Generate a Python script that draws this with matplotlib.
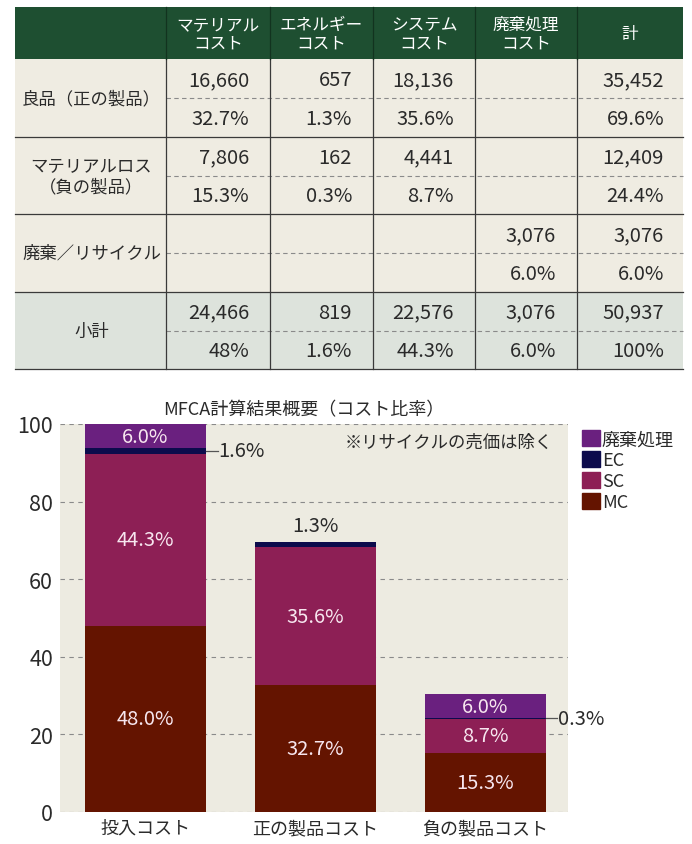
import matplotlib
matplotlib.use("Agg")
import matplotlib.pyplot as plt
from matplotlib.patches import Rectangle, Patch
import numpy as np

plt.rcParams['font.family'] = ['Noto Sans CJK JP', 'DejaVu Sans']

# ---- table data ----
header = ['マテリアル\nコスト', 'エネルギー\nコスト', 'システム\nコスト', '廃棄処理\nコスト', '計']
row_labels = ['良品（正の製品）', 'マテリアルロス\n（負の製品）', '廃棄／リサイクル', '小計']
amounts = [
    ['16,660', '657', '18,136', '', '35,452'],
    ['7,806', '162', '4,441', '', '12,409'],
    ['', '', '', '3,076', '3,076'],
    ['24,466', '819', '22,576', '3,076', '50,937'],
]
shares = [
    ['32.7%', '1.3%', '35.6%', '', '69.6%'],
    ['15.3%', '0.3%', '8.7%', '', '24.4%'],
    ['', '', '', '6.0%', '6.0%'],
    ['48%', '1.6%', '44.3%', '6.0%', '100%'],
]

# ---- chart data ----
bar_labels = ['投入コスト', '正の製品コスト', '負の製品コスト']
mc = [48.0, 32.7, 15.3]
sc = [44.3, 35.6, 8.7]
ec = [1.6, 1.3, 0.3]
waste = [6.0, 0.0, 6.0]
series_names = ['廃棄処理', 'EC', 'SC', 'MC']

c_mc = '#641400'
c_sc = '#8d1f55'
c_ec = '#0c0b4c'
c_waste = '#6a207f'
c_green = '#1e4f31'
c_beige = '#efece2'
c_total = '#dde3dc'
c_text = '#2a2a2a'
c_inner = '#f7e6ef'

W, H = 692, 845
fig = plt.figure(figsize=(W / 100, H / 100), dpi=100)

# table drawn in pixel coordinates
tax = fig.add_axes([0, 0, 1, 1])
tax.set_xlim(0, W)
tax.set_ylim(H, 0)
tax.axis('off')

col_edges = [15, 166, 270, 373, 475, 577, 683]
row_edges = [8, 60, 138, 215, 293, 370]

tax.add_patch(Rectangle((col_edges[0], row_edges[0]), col_edges[-1] - col_edges[0],
                        row_edges[1] - row_edges[0], color=c_green, lw=0))
for i in range(4):
    bg = c_total if i == 3 else c_beige
    tax.add_patch(Rectangle((col_edges[0], row_edges[i + 1]), col_edges[-1] - col_edges[0],
                            row_edges[i + 2] - row_edges[i + 1], color=bg, lw=0))

for j, h in enumerate(header):
    xc = (col_edges[j + 1] + col_edges[j + 2]) / 2
    tax.text(xc, (row_edges[0] + row_edges[1]) / 2 + 1, h, ha='center', va='center',
             color='white', fontsize=12, linespacing=1.15)

for i in range(4):
    top, bot = row_edges[i + 1], row_edges[i + 2]
    mid = (top + bot) / 2
    tax.text((col_edges[0] + col_edges[1]) / 2 + 1, mid, row_labels[i], ha='center', va='center',
             color=c_text, fontsize=12.5, linespacing=1.25)
    tax.plot([col_edges[1], col_edges[-1]], [mid, mid], color='#8a8a8a', lw=0.8,
             dashes=(4, 3))
    for j in range(5):
        xr = col_edges[j + 2] - 21 if j < 4 else col_edges[j + 2] - 19
        tax.text(xr, (top + mid) / 2 + 1, amounts[i][j], ha='right', va='center',
                 color=c_text, fontsize=14.5)
        tax.text(xr, (mid + bot) / 2 + 1, shares[i][j], ha='right', va='center',
                 color=c_text, fontsize=14.5)
    tax.plot([col_edges[0], col_edges[-1]], [bot, bot], color='#3a3a3a', lw=0.9)

for x in col_edges[1:-1]:
    tax.plot([x, x], [row_edges[1], row_edges[-1]], color='#3a3a3a', lw=0.9)
    tax.plot([x, x], [row_edges[0], row_edges[1]], color='#12331f', lw=0.9)

# ---- stacked bar chart ----
ax = fig.add_axes([60 / W, 32 / H, 508 / W, 388 / H])
ax.set_facecolor('#edebe1')
x = np.arange(len(bar_labels))
width = 0.712

mc_a, sc_a, ec_a, w_a = map(np.array, (mc, sc, ec, waste))
ax.bar(x, mc_a, width, color=c_mc, zorder=3)
ax.bar(x, sc_a, width, bottom=mc_a, color=c_sc, zorder=3)
ax.bar(x, ec_a, width, bottom=mc_a + sc_a, color=c_ec, zorder=3)
ax.bar(x, w_a, width, bottom=mc_a + sc_a + ec_a, color=c_waste, zorder=3)

for i in x:
    ax.text(i, mc_a[i] / 2, f'{mc_a[i]:.1f}%', ha='center', va='center', color=c_inner,
            fontsize=14.5, zorder=4)
    ax.text(i, mc_a[i] + sc_a[i] / 2, f'{sc_a[i]:.1f}%', ha='center', va='center',
            color=c_inner, fontsize=14.5, zorder=4)
    if w_a[i] > 0:
        ax.text(i, mc_a[i] + sc_a[i] + ec_a[i] + w_a[i] / 2, f'{w_a[i]:.1f}%', ha='center',
                va='center', color=c_inner, fontsize=14.5, zorder=4)

# EC labels placed outside the bars
for i in [0, 2]:
    yy = mc_a[i] + sc_a[i] + ec_a[i] / 2
    x0 = i + width / 2
    ax.plot([x0, x0 + 0.07], [yy, yy], color='#555555', lw=0.9, zorder=4, clip_on=False)
    ax.text(x0 + 0.075, yy, f'{ec_a[i]:.1f}%', ha='left', va='center', color=c_text,
            fontsize=14.5, zorder=4, clip_on=False)
ax.text(1, mc_a[1] + sc_a[1] + ec_a[1] + 1.5, f'{ec_a[1]:.1f}%', ha='center', va='bottom',
        color=c_text, fontsize=14.5, zorder=4)

ax.set_xlim(-0.503, 2.488)
ax.set_ylim(0, 100)
ax.set_yticks([0, 20, 40, 60, 80, 100])
ax.set_xticks(x)
ax.set_xticklabels(bar_labels, fontsize=13, color=c_text)
ax.tick_params(axis='y', labelsize=15.5, labelcolor=c_text, length=0, pad=5)
ax.tick_params(axis='x', length=0, pad=5)
for s in ax.spines.values():
    s.set_visible(False)
ax.yaxis.grid(True, color='#8a8a8a', lw=0.8, dashes=(4, 4), zorder=1)
ax.set_axisbelow(True)

ax.set_title('MFCA計算結果概要（コスト比率）', fontsize=13, color=c_text, pad=7, x=0.48)
ax.text(0.97, 0.955, '※リサイクルの売価は除く', transform=ax.transAxes, ha='right', va='center',
        fontsize=12.5, color=c_text)

handles = [Patch(color=c) for c in [c_waste, c_ec, c_sc, c_mc]]
fig.legend(handles, series_names, loc='upper left', bbox_to_anchor=(573 / W, 1 - 422 / H),
           frameon=False, fontsize=13, handlelength=1.0, handleheight=1.0,
           handletextpad=0.1, labelspacing=0.15, borderpad=0, labelcolor=c_text)

fig.savefig('out.png', dpi=100, facecolor='white')
